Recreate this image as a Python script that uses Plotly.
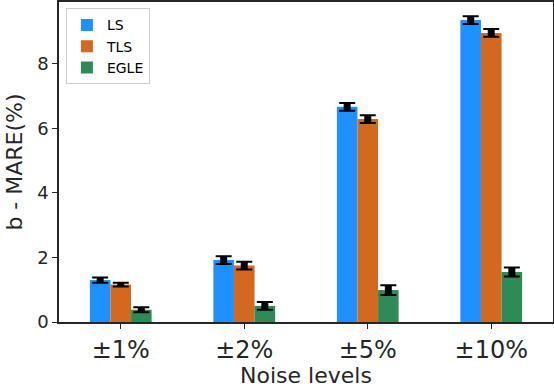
import plotly.graph_objects as go

# noise levels and b-MARE values (%)
categories = ["±1%", "±2%", "±5%", "±10%"]
ls_vals = [1.30, 1.92, 6.67, 9.36]
tls_vals = [1.16, 1.75, 6.29, 8.96]
egle_vals = [0.38, 0.50, 0.99, 1.55]
ls_err = [0.08, 0.12, 0.12, 0.12]
tls_err = [0.06, 0.12, 0.12, 0.12]
egle_err = [0.08, 0.12, 0.15, 0.14]

series = [
    ("LS", ls_vals, ls_err, "#1E90FF"),
    ("TLS", tls_vals, tls_err, "#D2691E"),
    ("EGLE", egle_vals, egle_err, "#2E8B57"),
]

fig = go.Figure()
for name, vals, err, color in series:
    # coloured bar with thin caps
    fig.add_trace(go.Bar(
        x=categories, y=vals, name=name, offsetgroup=name,
        marker=dict(color=color, line=dict(width=0)),
        error_y=dict(type="data", array=err, color="black",
                     thickness=2, width=8),
    ))
    # thick vertical stem of the error bar
    fig.add_trace(go.Bar(
        x=categories, y=vals, offsetgroup=name, showlegend=False,
        marker=dict(color="rgba(0,0,0,0)", line=dict(width=0)),
        error_y=dict(type="data", array=err, color="black",
                     thickness=7, width=0),
        hoverinfo="skip",
    ))

axis_style = dict(
    showline=True, linecolor="#262626", linewidth=1.5, mirror=True,
    ticks="outside", ticklen=5, tickcolor="#262626", showgrid=False,
    zeroline=False, automargin=False,
)

fig.update_layout(
    width=554, height=388,
    margin=dict(l=59, r=1, t=2, b=66),
    plot_bgcolor="white", paper_bgcolor="white",
    barmode="group", bargap=0.5, bargroupgap=0,
    font=dict(family="DejaVu Sans", color="#262626"),
    showlegend=True,
    legend=dict(
        x=0.014, y=0.98, xanchor="left", yanchor="top",
        bgcolor="white", bordercolor="#cccccc", borderwidth=1,
        font=dict(size=14, color="black"),
    ),
    xaxis=dict(axis_style, range=[-0.5, 3.5],
               tickfont=dict(size=24, color="#262626"),
               title=dict(text="Noise levels", font=dict(size=22), standoff=5)),
    yaxis=dict(axis_style, range=[0, 9.92], tickvals=[0, 2, 4, 6, 8],
               tickfont=dict(size=18, color="#262626"),
               title=dict(text="b - MARE(%)", font=dict(size=22), standoff=8)),
)

# drop the browser's default page margin so the figure sits at the corner
fig.write_html("out.html", config={"displayModeBar": False},
               post_script="document.body.style.margin='0px';")
